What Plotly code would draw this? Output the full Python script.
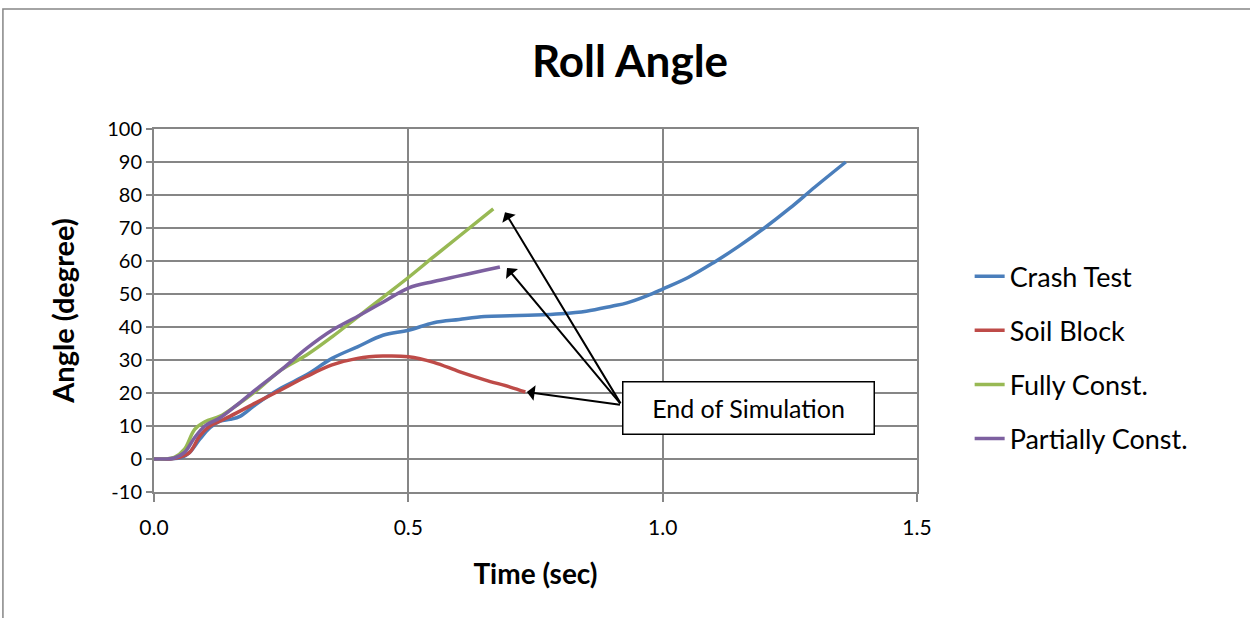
import plotly.graph_objects as go

# dados
crash_t = [0, 0.03, 0.055, 0.07, 0.09, 0.11, 0.13, 0.15, 0.17, 0.2, 0.25, 0.3, 0.35, 0.4, 0.45,
           0.5, 0.55, 0.6, 0.65, 0.7, 0.75, 0.8, 0.85, 0.9, 0.93, 0.97, 1.0, 1.05, 1.1, 1.15,
           1.2, 1.25, 1.3, 1.36]
crash_v = [0, 0, 0.5, 2, 6, 9.5, 11.5, 12, 13, 16.5, 21.5, 25.5, 30.5, 34, 37.5,
           39, 41.3, 42.3, 43.2, 43.4, 43.6, 44, 44.8, 46.3, 47.3, 49.5, 51.5, 55, 59.5, 64.5,
           70, 76, 82.5, 90]

soil_t = [0, 0.03, 0.05, 0.07, 0.09, 0.11, 0.13, 0.15, 0.2, 0.25, 0.3, 0.35, 0.4, 0.45,
          0.5, 0.55, 0.6, 0.65, 0.7, 0.73]
soil_v = [0, 0, 0.5, 2, 7, 10, 11.5, 13, 17, 21, 25, 28.5, 30.5, 31.2,
          31, 29.3, 26.5, 24, 21.8, 20.3]

fully_t = [0, 0.02, 0.04, 0.06, 0.08, 0.1, 0.13, 0.16, 0.2, 0.25, 0.3, 0.35, 0.4, 0.45,
           0.5, 0.55, 0.6, 0.667]
fully_v = [0, 0, 0.5, 3, 9, 11.3, 13, 16, 20.5, 27, 31.5, 37, 43, 49,
           55, 61.3, 67.5, 75.8]

partial_t = [0, 0.02, 0.04, 0.06, 0.08, 0.1, 0.13, 0.16, 0.2, 0.25, 0.3, 0.35, 0.4, 0.45,
             0.5, 0.55, 0.6, 0.65, 0.68]
partial_v = [0, 0, 0.3, 2, 6.5, 10, 12.5, 16, 21, 27, 33.5, 39, 43.2, 47.5,
             51.8, 53.8, 55.5, 57.2, 58.2]

y_ticks = list(range(-10, 101, 10))
y_labels = [str(v) for v in y_ticks]  # hífen simples, como no Excel

# fim de cada simulação (pontas das setas)
fim_t = [0.69, 0.694, 0.733]
fim_v = [74.8, 57.9, 20.3]

fonte = "Lato"
cinza = "#868686"

fig = go.Figure()
series = [
    ("Crash Test", crash_t, crash_v, "#4A7EBB"),
    ("Soil Block", soil_t, soil_v, "#BE4B48"),
    ("Fully Const.", fully_t, fully_v, "#98B954"),
    ("Partially Const.", partial_t, partial_v, "#7D60A0"),
]
for nome, t, v, cor in series:
    fig.add_trace(go.Scatter(x=t, y=v, mode="lines", name=nome, legendgroup=nome,
                             line=dict(color=cor, width=3.5, shape="spline")))

# setas "End of Simulation"
for xt, yt in zip(fim_t, fim_v):
    fig.add_annotation(x=xt, y=yt, ax=0.919, ay=16.4, axref="x", ayref="y",
                       text="", showarrow=True, arrowhead=1, arrowsize=1.3,
                       arrowwidth=2, arrowcolor="black")
fig.add_annotation(x=1.169, y=15.5, text="End of Simulation", showarrow=False,
                   font=dict(family=fonte, size=25, color="black"),
                   bgcolor="white", bordercolor="black", borderwidth=1.5,
                   width=248, height=49)

# moldura externa
fig.add_shape(type="rect", xref="paper", yref="paper", x0=-0.198, x1=1.45, y0=-0.5, y1=1.3306,
              line=dict(color=cinza, width=1.5), layer="below")

fig.update_layout(
    width=1250, height=618,
    paper_bgcolor="white", plot_bgcolor="white",
    margin=dict(l=154, r=333, t=129, b=126),
    title=dict(text="<b>Roll Angle</b>", x=0.504, xref="container", xanchor="center",
               y=0.9, yref="container", yanchor="middle",
               font=dict(family=fonte, size=44, color="black")),
    font=dict(family=fonte, color="black"),
    legend=dict(x=1.069, y=0.37, xanchor="left", yanchor="middle",
                font=dict(family=fonte, size=27, color="black"),
                tracegroupgap=16),
    showlegend=True,
    xaxis=dict(range=[0, 1.5], dtick=0.5, tickformat=".1f", showgrid=True,
               gridcolor=cinza, gridwidth=2, showline=True, linecolor=cinza, linewidth=2,
               mirror=True, ticks="outside", ticklen=8, tickwidth=2, tickcolor=cinza,
               zeroline=False, tickfont=dict(size=21), ticklabelstandoff=8,
               title=dict(text="<b>Time (sec)</b>", font=dict(size=28), standoff=26)),
    yaxis=dict(range=[-10, 100], tickvals=y_ticks, ticktext=y_labels, showgrid=True,
               gridcolor=cinza, gridwidth=2, showline=True, linecolor=cinza, linewidth=2,
               mirror=True, ticks="outside", ticklen=6, tickwidth=2, tickcolor=cinza,
               zeroline=False, tickfont=dict(size=20),
               title=dict(text="<b>Angle (degree)</b>", font=dict(size=29), standoff=24)),
)

fig.write_html("out.html", config={"displayModeBar": False},
               post_script="document.body.style.margin='0';")
